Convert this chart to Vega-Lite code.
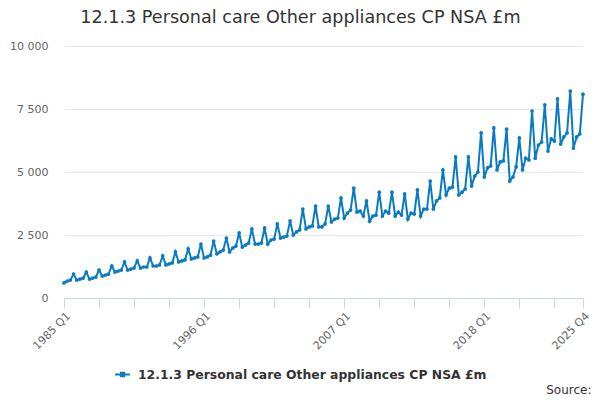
{
  "$schema": "https://vega.github.io/schema/vega-lite/v6.json",
  "autosize": {"type": "none"},
  "width": 519,
  "height": 252,
  "padding": {"left": 64, "top": 46, "right": 17, "bottom": 102},
  "background": "white",
  "config": {
    "view": {"stroke": null},
    "font": "DejaVu Sans"
  },
  "title": {
    "text": "12.1.3 Personal care Other appliances CP NSA £m",
    "font": "DejaVu Sans",
    "fontSize": 17.6,
    "fontWeight": "normal",
    "color": "#333333",
    "anchor": "middle",
    "dx": -23,
    "offset": 13
  },
  "data": {
    "values": [
      {"q": "1985 Q1", "v": 600}, {"q": "1985 Q2", "v": 670}, {"q": "1985 Q3", "v": 710}, {"q": "1985 Q4", "v": 950},
      {"q": "1986 Q1", "v": 710}, {"q": "1986 Q2", "v": 750}, {"q": "1986 Q3", "v": 790}, {"q": "1986 Q4", "v": 1030},
      {"q": "1987 Q1", "v": 750}, {"q": "1987 Q2", "v": 790}, {"q": "1987 Q3", "v": 830}, {"q": "1987 Q4", "v": 1110},
      {"q": "1988 Q1", "v": 870}, {"q": "1988 Q2", "v": 910}, {"q": "1988 Q3", "v": 950}, {"q": "1988 Q4", "v": 1270},
      {"q": "1989 Q1", "v": 1030}, {"q": "1989 Q2", "v": 1070}, {"q": "1989 Q3", "v": 1110}, {"q": "1989 Q4", "v": 1430},
      {"q": "1990 Q1", "v": 1110}, {"q": "1990 Q2", "v": 1150}, {"q": "1990 Q3", "v": 1190}, {"q": "1990 Q4", "v": 1470},
      {"q": "1991 Q1", "v": 1190}, {"q": "1991 Q2", "v": 1230}, {"q": "1991 Q3", "v": 1230}, {"q": "1991 Q4", "v": 1590},
      {"q": "1992 Q1", "v": 1270}, {"q": "1992 Q2", "v": 1270}, {"q": "1992 Q3", "v": 1310}, {"q": "1992 Q4", "v": 1670},
      {"q": "1993 Q1", "v": 1310}, {"q": "1993 Q2", "v": 1350}, {"q": "1993 Q3", "v": 1390}, {"q": "1993 Q4", "v": 1830},
      {"q": "1994 Q1", "v": 1430}, {"q": "1994 Q2", "v": 1470}, {"q": "1994 Q3", "v": 1510}, {"q": "1994 Q4", "v": 1950},
      {"q": "1995 Q1", "v": 1550}, {"q": "1995 Q2", "v": 1590}, {"q": "1995 Q3", "v": 1630}, {"q": "1995 Q4", "v": 2140},
      {"q": "1996 Q1", "v": 1590}, {"q": "1996 Q2", "v": 1630}, {"q": "1996 Q3", "v": 1700}, {"q": "1996 Q4", "v": 2260},
      {"q": "1997 Q1", "v": 1750}, {"q": "1997 Q2", "v": 1830}, {"q": "1997 Q3", "v": 1900}, {"q": "1997 Q4", "v": 2380},
      {"q": "1998 Q1", "v": 1830}, {"q": "1998 Q2", "v": 1980}, {"q": "1998 Q3", "v": 2060}, {"q": "1998 Q4", "v": 2580},
      {"q": "1999 Q1", "v": 2020}, {"q": "1999 Q2", "v": 2100}, {"q": "1999 Q3", "v": 2180}, {"q": "1999 Q4", "v": 2740},
      {"q": "2000 Q1", "v": 2140}, {"q": "2000 Q2", "v": 2140}, {"q": "2000 Q3", "v": 2180}, {"q": "2000 Q4", "v": 2780},
      {"q": "2001 Q1", "v": 2140}, {"q": "2001 Q2", "v": 2300}, {"q": "2001 Q3", "v": 2340}, {"q": "2001 Q4", "v": 2940},
      {"q": "2002 Q1", "v": 2380}, {"q": "2002 Q2", "v": 2420}, {"q": "2002 Q3", "v": 2460}, {"q": "2002 Q4", "v": 3060},
      {"q": "2003 Q1", "v": 2500}, {"q": "2003 Q2", "v": 2620}, {"q": "2003 Q3", "v": 2700}, {"q": "2003 Q4", "v": 3530},
      {"q": "2004 Q1", "v": 2740}, {"q": "2004 Q2", "v": 2820}, {"q": "2004 Q3", "v": 2860}, {"q": "2004 Q4", "v": 3650},
      {"q": "2005 Q1", "v": 2820}, {"q": "2005 Q2", "v": 2820}, {"q": "2005 Q3", "v": 2940}, {"q": "2005 Q4", "v": 3650},
      {"q": "2006 Q1", "v": 3020}, {"q": "2006 Q2", "v": 3130}, {"q": "2006 Q3", "v": 3170}, {"q": "2006 Q4", "v": 3970},
      {"q": "2007 Q1", "v": 3170}, {"q": "2007 Q2", "v": 3370}, {"q": "2007 Q3", "v": 3490}, {"q": "2007 Q4", "v": 4360},
      {"q": "2008 Q1", "v": 3410}, {"q": "2008 Q2", "v": 3450}, {"q": "2008 Q3", "v": 3250}, {"q": "2008 Q4", "v": 3850},
      {"q": "2009 Q1", "v": 3050}, {"q": "2009 Q2", "v": 3250}, {"q": "2009 Q3", "v": 3290}, {"q": "2009 Q4", "v": 4200},
      {"q": "2010 Q1", "v": 3250}, {"q": "2010 Q2", "v": 3450}, {"q": "2010 Q3", "v": 3370}, {"q": "2010 Q4", "v": 4200},
      {"q": "2011 Q1", "v": 3250}, {"q": "2011 Q2", "v": 3410}, {"q": "2011 Q3", "v": 3290}, {"q": "2011 Q4", "v": 4130},
      {"q": "2012 Q1", "v": 3130}, {"q": "2012 Q2", "v": 3370}, {"q": "2012 Q3", "v": 3330}, {"q": "2012 Q4", "v": 4290},
      {"q": "2013 Q1", "v": 3250}, {"q": "2013 Q2", "v": 3530}, {"q": "2013 Q3", "v": 3530}, {"q": "2013 Q4", "v": 4640},
      {"q": "2014 Q1", "v": 3530}, {"q": "2014 Q2", "v": 3850}, {"q": "2014 Q3", "v": 3970}, {"q": "2014 Q4", "v": 5080},
      {"q": "2015 Q1", "v": 4090}, {"q": "2015 Q2", "v": 4360}, {"q": "2015 Q3", "v": 4400}, {"q": "2015 Q4", "v": 5600},
      {"q": "2016 Q1", "v": 4090}, {"q": "2016 Q2", "v": 4200}, {"q": "2016 Q3", "v": 4330}, {"q": "2016 Q4", "v": 5600},
      {"q": "2017 Q1", "v": 4440}, {"q": "2017 Q2", "v": 4840}, {"q": "2017 Q3", "v": 5000}, {"q": "2017 Q4", "v": 6550},
      {"q": "2018 Q1", "v": 4800}, {"q": "2018 Q2", "v": 5160}, {"q": "2018 Q3", "v": 5240}, {"q": "2018 Q4", "v": 6750},
      {"q": "2019 Q1", "v": 5080}, {"q": "2019 Q2", "v": 5400}, {"q": "2019 Q3", "v": 5440}, {"q": "2019 Q4", "v": 6700},
      {"q": "2020 Q1", "v": 4640}, {"q": "2020 Q2", "v": 4800}, {"q": "2020 Q3", "v": 5200}, {"q": "2020 Q4", "v": 6350},
      {"q": "2021 Q1", "v": 5080}, {"q": "2021 Q2", "v": 5550}, {"q": "2021 Q3", "v": 5480}, {"q": "2021 Q4", "v": 7420},
      {"q": "2022 Q1", "v": 5550}, {"q": "2022 Q2", "v": 6070}, {"q": "2022 Q3", "v": 6190}, {"q": "2022 Q4", "v": 7660},
      {"q": "2023 Q1", "v": 5830}, {"q": "2023 Q2", "v": 6310}, {"q": "2023 Q3", "v": 6230}, {"q": "2023 Q4", "v": 7900},
      {"q": "2024 Q1", "v": 6110}, {"q": "2024 Q2", "v": 6390}, {"q": "2024 Q3", "v": 6550}, {"q": "2024 Q4", "v": 8210},
      {"q": "2025 Q1", "v": 5950}, {"q": "2025 Q2", "v": 6390}, {"q": "2025 Q3", "v": 6510}, {"q": "2025 Q4", "v": 8090}
    ]
  },
  "mark": {
    "type": "line",
    "strokeWidth": 2,
    "point": {"filled": true, "size": 14}
  },
  "encoding": {
    "x": {
      "field": "q",
      "type": "ordinal",
      "scale": {"type": "point", "padding": 0},
      "axis": {
        "title": "Source:",
        "titleAnchor": "end",
        "titleAlign": "right",
        "titleX": 527,
        "titleY": 95,
        "titleFont": "DejaVu Sans",
        "titleFontSize": 12,
        "titleFontWeight": "normal",
        "titleColor": "#333333",
        "titleBaseline": "alphabetic",
        "values": ["1985 Q1", "1987 Q4", "1990 Q3", "1993 Q2", "1996 Q1", "1998 Q4", "2001 Q3", "2004 Q2", "2007 Q1", "2009 Q4", "2012 Q3", "2015 Q2", "2018 Q1", "2020 Q4", "2023 Q3", "2025 Q4"],
        "labelExpr": "indexof(['1985 Q1','1996 Q1','2007 Q1','2018 Q1','2025 Q4'], datum.value) >= 0 ? datum.value : ''",
        "labelAngle": -45,
        "labelFontSize": 11,
        "labelColor": "#666666",
        "labelPadding": 2,
        "labelOverlap": false,
        "domainColor": "#ccd6eb",
        "tickColor": "#ccd6eb",
        "tickSize": 10,
        "grid": false
      }
    },
    "y": {
      "field": "v",
      "type": "quantitative",
      "scale": {"domain": [0, 10000]},
      "axis": {
        "title": null,
        "values": [0, 2500, 5000, 7500, 10000],
        "labelExpr": "replace(format(datum.value, ','), ',', ' ')",
        "labelFontSize": 11,
        "labelColor": "#666666",
        "labelPadding": 16,
        "domain": false,
        "ticks": false,
        "grid": true,
        "gridColor": "#e6e6e6"
      }
    },
    "color": {
      "datum": "12.1.3 Personal care Other appliances CP NSA £m",
      "type": "nominal",
      "scale": {"range": ["#0a7bc1"]},
      "legend": {
        "title": null,
        "orient": "none",
        "legendX": 50,
        "legendY": 320,
        "direction": "horizontal",
        "labelFont": "DejaVu Sans",
        "labelFontSize": 12.4,
        "labelFontWeight": "bold",
        "labelColor": "#333333",
        "labelLimit": 0,
        "labelOffset": 7,
        "symbolType": "M-1,0L1,0M-0.22,-0.22L0.22,-0.22L0.22,0.22L-0.22,0.22Z",
        "symbolSize": 220,
        "symbolStrokeWidth": 2,
        "symbolFillColor": "#0a7bc1",
        "symbolStrokeColor": "#0a7bc1"
      }
    }
  }
}
